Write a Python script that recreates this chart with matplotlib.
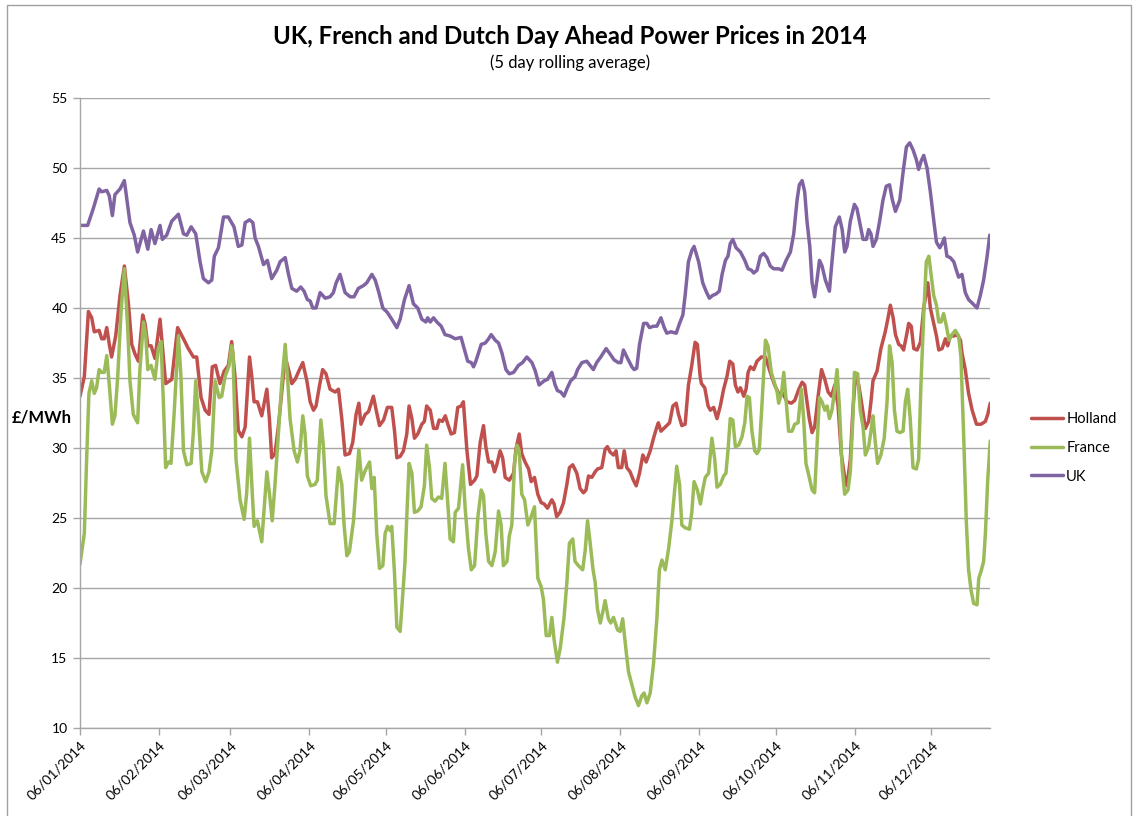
import numpy as np
import pandas as pd
import matplotlib
matplotlib.use('Agg')
import matplotlib.pyplot as plt
import matplotlib.dates as mdates
from matplotlib.patches import Rectangle

plt.rcParams['font.family'] = ['Lato', 'DejaVu Sans']

# day offset from 06/01/2014, 5 day rolling average price (GBP/MWh)
start = pd.Timestamp('2014-01-06')
end = pd.Timestamp('2014-12-29')

holland = [
    (0, 33.7), (1.7, 35.1), (3.3, 39.75), (4.6, 39.3), (5.6, 38.3), (7.5, 38.4), (8.5, 37.8), (9.5, 37.8),
    (10.5, 38.6), (11.5, 37.4), (12.4, 36.5), (14, 38.0), (15.7, 40.9), (17.4, 43.0), (19, 40.3), (20.3, 37.4),
    (21.6, 36.7), (22.9, 36.2), (24.6, 39.5), (25.5, 38.9), (26.6, 37.3), (27.9, 37.3), (29.4, 36.4), (31.4, 39.2),
    (32.4, 37.1), (33.6, 34.6), (36, 34.9), (38.3, 38.6), (40.6, 37.8), (42.5, 37.1), (44.5, 36.5), (45.8, 36.5),
    (47.5, 33.6), (49.1, 32.7), (50.6, 32.4), (51.9, 35.8), (53.2, 35.9), (54.9, 34.6), (56.6, 35.5), (58.2, 35.9),
    (59.5, 37.6), (60.8, 35.1), (62.1, 31.25), (63.5, 30.8), (64.8, 31.5), (66.5, 36.5), (67.4, 35.1), (68.3, 33.3),
    (69.6, 33.3), (71.3, 32.3), (73.3, 34.2), (74.3, 32.1), (75.2, 29.3), (76.5, 29.6), (77.8, 31.5), (79.1, 33.9),
    (80.5, 36.5), (81.8, 35.6), (83.1, 34.6), (84.4, 34.9), (86.1, 35.6), (87.4, 36.1), (89, 34.8), (90.3, 33.3),
    (91.6, 32.7), (92.6, 33.0), (94, 34.5), (95.2, 35.6), (96.5, 35.3), (98.1, 34.2), (100.1, 34.0), (101.4, 34.2),
    (102.7, 32.1), (104, 29.5), (105.7, 29.6), (107, 30.4), (108.3, 32.4), (109.4, 33.2), (110.2, 31.7), (111.9, 32.4),
    (113.2, 32.6), (115.1, 33.7), (116.2, 32.7), (117.5, 31.6), (119.1, 32.0), (120.6, 32.9), (122.3, 32.9), (123.4, 31.2),
    (124.3, 29.3), (125.6, 29.4), (126.9, 29.8), (128.2, 31.0), (129.1, 33.0), (130.2, 32.1), (131.2, 30.7), (132.5, 31.0),
    (134.1, 31.7), (135.1, 31.9), (136, 33.0), (137.4, 32.7), (138.7, 31.4), (140, 31.4), (140.9, 32.0), (142.2, 31.9),
    (143.3, 32.3), (144.3, 31.7), (145.6, 31.0), (146.9, 31.1), (148.2, 32.9), (149.5, 33.0), (150.4, 33.3), (151.8, 29.8),
    (153.2, 27.4), (154.8, 27.7), (155.7, 28.0), (157, 30.4), (158.3, 31.6), (159.2, 30.1), (160.3, 29.0), (161.6, 29.0),
    (162.6, 28.3), (163.5, 28.8), (164.8, 29.8), (165.8, 29.3), (166.8, 27.9), (168.4, 27.7), (170.1, 28.2), (171, 29.9),
    (172.3, 31.0), (173.3, 29.6), (174.6, 29.0), (176, 28.5), (177, 27.6), (178.3, 27.9), (179.6, 26.7), (180.9, 26.1),
    (182.1, 26.0), (183.4, 25.7), (185.1, 26.3), (186, 26.0), (187, 25.1), (188.3, 25.4), (189.7, 26.1), (191, 27.4),
    (192, 28.6), (193.3, 28.8), (194.9, 28.2), (196.2, 27.1), (197.5, 26.8), (198.5, 27.0), (199.5, 28.0), (200.8, 27.9),
    (202.1, 28.3), (203, 28.5), (204.7, 28.6), (206, 29.9), (206.9, 30.1), (208, 29.7), (209.3, 29.5), (210.3, 29.8),
    (211.2, 28.6), (212.5, 28.6), (213.5, 29.8), (214.5, 28.6), (215.8, 28.3), (217.1, 27.7), (218.2, 27.3), (219.5, 28.2),
    (220.8, 29.5), (222.1, 29.0), (223.7, 29.8), (225, 30.7), (226.3, 31.5), (226.9, 31.8), (227.9, 31.2), (229.6, 31.5),
    (231.3, 31.8), (232.6, 33.0), (233.9, 33.2), (234.8, 32.4), (236.1, 31.6), (237.4, 31.7), (238.7, 34.5), (240, 35.9),
    (241.3, 37.55), (242.2, 37.4), (243.3, 35.1), (243.8, 34.6), (245.1, 34.3), (246.4, 33.0), (247.3, 32.7), (248.6, 32.9),
    (249.9, 32.1), (251.2, 33.0), (252.5, 34.2), (253.8, 35.1), (254.9, 36.2), (256.1, 36.0), (257.1, 34.5), (258.1, 34.0),
    (259.1, 34.3), (260.4, 33.7), (261.3, 34.2), (262.1, 35.4), (263, 35.8), (264.3, 35.6), (265.6, 36.2), (267.3, 36.5),
    (268.9, 36.5), (270.8, 35.4), (272.5, 34.5), (274.1, 33.9), (275.7, 33.9), (277.4, 33.3), (279.1, 33.2), (280.4, 33.4),
    (282, 34.2), (283.3, 34.7), (284.3, 34.5), (285.2, 33.3), (286.1, 32.1), (287.2, 31.1), (288.2, 31.5), (289.5, 33.6),
    (290.9, 35.6), (292.2, 34.9), (293.5, 34.0), (294.8, 33.7), (296.1, 34.5), (297.4, 33.0), (298.7, 29.5), (300, 27.9),
    (300.9, 27.3), (302.2, 29.2), (303.2, 32.7), (304.2, 35.1), (305.5, 34.5), (306.8, 33.0), (308.1, 31.4), (309.4, 31.9),
    (310.3, 33.3), (311.1, 34.8), (312.7, 35.5), (314.2, 37.1), (315.9, 38.3), (316.9, 39.2), (317.9, 40.2), (319, 39.3),
    (319.9, 38.1), (321.2, 37.4), (322.1, 37.3), (323.1, 37.0), (324.2, 38.0), (325.1, 38.9), (326.1, 38.7), (327.1, 37.1),
    (328.4, 37.0), (329.7, 37.55), (331, 40.0), (332.6, 41.8), (333.6, 40.0), (334.9, 38.9), (336, 38.0), (336.9, 37.0),
    (338.2, 37.1), (339.5, 37.8), (340.4, 37.3), (341.4, 38.0), (342.8, 38.0), (344.1, 38.1), (345.4, 37.7), (346, 36.8),
    (347.3, 35.6), (348.6, 33.9), (350, 32.7), (351.7, 31.7), (353.5, 31.7), (355.2, 31.9), (356.1, 32.4), (357.1, 33.2),
]

france = [
    (0, 21.7), (1.7, 23.9), (2.6, 29.2), (3.5, 33.9), (4.6, 34.8), (5.6, 33.9), (6.5, 34.3), (7.5, 35.6), (8.5, 35.4),
    (9.5, 35.4), (10.5, 36.6), (11.5, 34.5), (12.7, 31.7), (13.7, 32.3), (14.8, 35.1), (16.1, 39.75), (17.4, 42.8),
    (18.7, 38.6), (19.6, 34.8), (20.9, 32.4), (22.6, 31.8), (23.5, 35.6), (24.9, 39.0), (25.8, 38.0), (26.6, 35.6),
    (27.9, 35.9), (29.4, 34.9), (30.7, 37.1), (31.8, 37.6), (32.7, 33.3), (33.6, 28.6), (34.7, 29.0), (35.7, 28.9),
    (37, 32.7), (38.6, 38.0), (39.6, 35.1), (40.6, 29.8), (41.9, 28.8), (43.6, 28.9), (44.5, 31.2), (45.4, 34.8),
    (46.4, 32.4), (47.8, 28.3), (49.3, 27.6), (50.6, 28.3), (51.7, 29.8), (53, 34.8), (54.6, 33.6), (55.6, 33.7),
    (56.9, 35.1), (58.5, 35.9), (59.5, 37.3), (60, 36.8), (61.2, 29.2), (62.8, 26.3), (64.4, 24.9), (65.4, 26.8),
    (66.5, 30.7), (67.4, 27.4), (68.3, 24.4), (69.6, 24.8), (71.3, 23.3), (73.3, 28.3), (74.3, 26.8), (75.4, 24.8),
    (76.5, 27.4), (77.8, 31.0), (79.1, 34.5), (80.5, 37.4), (81.4, 35.1), (82.4, 32.1), (84, 29.8), (85.3, 29.0),
    (86.3, 29.8), (87.4, 32.3), (88.3, 31.0), (89.2, 28.0), (90.5, 27.3), (92.2, 27.4), (93.1, 27.7), (94.5, 32.0),
    (95.5, 30.1), (96.5, 26.6), (98.1, 24.6), (99.7, 24.6), (101.4, 28.6), (102.7, 27.4), (103.6, 24.5), (104.7, 22.3),
    (105.7, 22.6), (107.3, 24.8), (108.3, 27.4), (109.4, 29.9), (110.5, 27.7), (111.9, 28.4), (113.6, 29.0), (114.5, 27.1),
    (115.4, 27.9), (116.4, 23.9), (117.5, 21.4), (118.8, 21.6), (119.7, 23.9), (120.7, 24.4), (121.7, 24.1), (122.3, 24.4),
    (123.4, 21.0), (124.3, 17.2), (125.6, 16.9), (126.5, 19.2), (127.5, 21.9), (128.2, 25.1), (129.1, 28.9), (130.2, 28.2),
    (131.2, 25.4), (132.5, 25.5), (133.8, 25.8), (135.1, 27.3), (136, 30.2), (137.1, 28.6), (138, 26.4), (139.3, 26.2),
    (140.6, 26.5), (141.9, 26.4), (143.2, 28.9), (144.3, 26.0), (145.2, 23.5), (146.5, 23.3), (147.2, 25.4), (148.5, 25.7),
    (150.1, 28.8), (151.1, 25.7), (152.4, 22.8), (153.5, 21.3), (154.8, 21.6), (156.1, 25.1), (157.4, 27.0), (158.3, 26.6),
    (159.2, 23.9), (160.3, 21.9), (161.6, 21.6), (162.9, 22.6), (164.2, 25.5), (165.2, 24.5), (166.1, 21.6), (167.5, 21.9),
    (168.4, 23.7), (169.4, 24.5), (170.5, 29.0), (171.4, 30.2), (172.3, 29.8), (173.3, 26.7), (174.4, 26.3), (175.7, 24.5),
    (177, 25.1), (178.3, 25.8), (179.6, 20.7), (180.9, 20.1), (181.8, 19.2), (182.9, 16.6), (184.2, 16.6), (185.1, 17.9),
    (186, 16.3), (187.3, 14.7), (188.4, 15.7), (189.9, 17.9), (191, 20.4), (192, 23.2), (193.3, 23.5), (194.2, 21.9),
    (195.5, 21.6), (197.2, 21.3), (198.2, 22.7), (199.1, 24.8), (200.1, 23.3), (201.2, 21.4), (202.1, 20.4), (203, 18.5),
    (204.1, 17.5), (205.1, 18.3), (206, 19.1), (207.3, 17.8), (208.2, 17.5), (209.3, 17.9), (210.9, 17.0), (211.9, 16.9),
    (212.9, 17.8), (214.3, 15.4), (215.2, 14.0), (216.5, 13.1), (217.8, 12.2), (219.1, 11.6), (220.4, 12.3), (221.3, 12.5),
    (222.4, 11.8), (223.7, 12.5), (225, 14.6), (226.3, 17.8), (227.3, 21.3), (228.3, 22.0), (229.6, 21.3), (230.9, 22.8),
    (232.2, 24.8), (233.5, 27.4), (234.1, 28.7), (235.2, 27.4), (236.1, 24.5), (237.4, 24.3), (239.1, 24.2), (240, 25.4),
    (240.9, 27.6), (242.2, 27.0), (243.4, 26.0), (244.3, 27.0), (245.3, 27.9), (246.6, 28.2), (247.9, 30.7), (249, 29.2),
    (249.9, 27.2), (251.2, 27.4), (252.5, 28.0), (253.4, 28.2), (254.2, 29.8), (255.1, 32.1), (256.1, 32.0), (257.1, 30.1),
    (258.4, 30.2), (259.7, 30.8), (260.8, 31.8), (261.7, 33.7), (262.6, 33.6), (263.6, 31.2), (264.7, 29.8), (265.6, 29.6),
    (266.5, 29.9), (267.6, 33.3), (268.9, 37.7), (269.9, 37.3), (271.2, 35.4), (272.5, 34.6), (273.5, 34.0), (274.1, 33.2),
    (275.2, 33.9), (276.1, 35.4), (277, 33.4), (278, 31.2), (279.3, 31.2), (280.4, 31.7), (281.7, 31.8), (283, 34.2),
    (283.9, 32.1), (284.8, 28.9), (286.1, 27.9), (287.2, 27.0), (288.2, 26.8), (289.2, 30.4), (290.1, 33.6), (291.1, 33.3),
    (292.2, 32.7), (293.1, 33.0), (294, 32.1), (295, 32.7), (296.1, 34.2), (297, 35.6), (297.9, 33.0), (299, 28.6),
    (300, 26.7), (301.3, 27.0), (302.2, 28.3), (303.2, 32.1), (303.8, 35.4), (305.1, 35.3), (306.1, 32.7), (307.2, 31.5),
    (308.1, 29.5), (309.4, 30.1), (310.3, 31.2), (311.1, 32.3), (312, 30.4), (312.9, 28.9), (314.2, 29.5), (315.5, 30.7),
    (316.6, 33.3), (317.6, 37.3), (318.6, 36.1), (319.5, 32.7), (320.5, 31.2), (321.6, 31.1), (322.9, 31.2), (323.8, 33.3),
    (324.7, 34.2), (325.7, 32.1), (326.8, 28.6), (328.1, 28.5), (329, 29.2), (329.9, 34.5), (331, 39.5), (332, 43.3),
    (333, 43.7), (333.9, 42.4), (334.9, 40.9), (336, 40.2), (336.9, 39.0), (337.8, 39.0), (338.8, 39.6), (339.9, 38.7),
    (340.9, 37.7), (342.1, 38.1), (343.4, 38.4), (344.7, 38.0), (345.6, 36.5), (346.7, 30.7), (347.7, 24.8), (348.6, 21.3),
    (349.6, 19.8), (350.6, 18.9), (351.9, 18.8), (352.6, 20.7), (353.5, 21.2), (354.5, 21.9), (355.2, 23.9), (356.1, 27.7),
    (357.1, 30.5),
]

uk = [
    (0, 45.9), (3, 45.9), (5.2, 47.1), (7.5, 48.5), (8.5, 48.3), (10.5, 48.4), (11.5, 48.0), (12.7, 46.6), (13.7, 48.1),
    (15.7, 48.5), (17.4, 49.1), (19.6, 46.1), (21.3, 45.2), (22.6, 44.0), (24.9, 45.5), (26.6, 44.2), (27.9, 45.6),
    (29.4, 44.6), (31.4, 45.9), (32.3, 44.9), (34, 45.2), (36, 46.2), (38.6, 46.7), (40.6, 45.3), (41.9, 45.2),
    (43.6, 45.8), (45.4, 45.3), (47.1, 43.3), (48.4, 42.1), (50.4, 41.8), (51.7, 42.0), (52.7, 43.7), (54.3, 44.3),
    (56.3, 46.5), (58.2, 46.5), (60.4, 45.8), (62.1, 44.4), (63.5, 44.5), (64.8, 46.1), (66.5, 46.3), (67.8, 46.1),
    (68.7, 45.0), (70, 44.4), (72, 43.1), (73.5, 43.4), (75.2, 42.1), (77.2, 42.7), (78.5, 43.3), (80.5, 43.6),
    (81.8, 42.4), (83.1, 41.4), (85, 41.2), (86.6, 41.5), (87.9, 41.2), (89.2, 40.6), (90.3, 40.5), (91.3, 40.0),
    (92.6, 40.0), (94.2, 41.1), (96.2, 40.7), (98.1, 40.8), (99.4, 41.1), (100.5, 41.8), (102, 42.4), (104, 41.1),
    (106, 40.8), (107.5, 40.8), (109.2, 41.4), (111.2, 41.6), (112.5, 41.8), (114.5, 42.4), (115.8, 42.0), (117.1, 41.2),
    (118.8, 40.0), (120.5, 39.7), (122.3, 39.2), (124.3, 38.6), (125.6, 39.2), (127.3, 40.6), (129.1, 41.6), (130.8, 40.3),
    (132.5, 40.0), (134.1, 39.2), (135.7, 39.0), (136.4, 39.3), (137.4, 39.0), (138.7, 39.3), (140, 39.0), (141.7, 38.7),
    (143.2, 38.1), (145.2, 38.0), (147.2, 37.8), (149.5, 37.9), (150.4, 37.3), (152.1, 36.2), (153.5, 36.1), (154.4, 35.8),
    (155.3, 36.2), (157.4, 37.4), (159, 37.5), (160.3, 37.8), (161.3, 38.1), (162.9, 37.7), (164.2, 37.5), (165.5, 36.8),
    (167.1, 35.6), (168.4, 35.3), (170.1, 35.4), (172, 35.9), (173.6, 36.1), (175.3, 36.5), (177.3, 36.1), (178.6, 35.5),
    (180.1, 34.5), (182.1, 34.8), (183.4, 34.9), (185.1, 35.4), (186.4, 34.5), (187.3, 34.1), (188.6, 34.0), (189.9, 33.7),
    (191.2, 34.3), (192.5, 34.8), (194.2, 35.1), (195.2, 35.6), (196.9, 36.1), (198.8, 36.2), (200.1, 35.9), (201.4, 35.6),
    (202.7, 36.1), (204.3, 36.5), (206.4, 37.1), (208, 36.7), (209.5, 36.3), (211.2, 36.1), (212.2, 36.1), (213.2, 37.0),
    (214.8, 36.4), (216.5, 35.8), (217.4, 35.6), (218.4, 35.7), (219.5, 37.4), (221.1, 38.9), (222.4, 38.9), (223.4, 38.6),
    (225, 38.7), (226.3, 38.7), (227.9, 39.3), (229.2, 38.6), (230.2, 38.2), (231.8, 38.3), (233.9, 38.2), (235.2, 38.9),
    (236.5, 39.5), (237.4, 40.9), (238.7, 43.3), (240, 44.1), (240.9, 44.4), (242.7, 43.3), (244.3, 41.8), (245.6, 41.2),
    (246.9, 40.7), (248.2, 40.9), (249.5, 41.0), (250.8, 41.2), (251.9, 42.4), (253.2, 43.4), (254.2, 43.7), (255.1, 44.6),
    (256.1, 44.9), (257.4, 44.3), (259.1, 44.0), (260.8, 43.4), (262.1, 42.8), (263.4, 42.7), (264.3, 42.5), (265.6, 42.7),
    (266.9, 43.7), (268.2, 43.9), (269.5, 43.6), (270.8, 43.0), (272.1, 42.8), (274.1, 42.8), (275.4, 42.7), (277, 43.4),
    (278.7, 44.0), (280, 45.3), (281.3, 47.7), (282.2, 48.8), (283.3, 49.1), (284.3, 48.3), (285.2, 46.2), (286.3, 44.4),
    (287.2, 41.8), (288.2, 40.8), (289.2, 42.1), (290.1, 43.4), (291.1, 43.0), (292.4, 42.0), (294, 41.2), (295, 43.3),
    (296.3, 45.8), (297.9, 46.5), (299, 45.6), (300, 44.0), (300.9, 44.4), (302.2, 46.2), (303.8, 47.4), (304.8, 47.1),
    (306.1, 45.9), (307.2, 44.9), (308.5, 44.9), (309.4, 45.6), (310.3, 45.3), (311.1, 44.4), (312.4, 44.9), (313.7, 46.2),
    (315, 47.7), (316.3, 48.7), (317.6, 48.8), (318.6, 47.8), (319.9, 46.9), (321.6, 47.7), (322.9, 49.7), (324.2, 51.5),
    (325.5, 51.8), (326.8, 51.3), (328.1, 50.6), (329, 49.9), (330, 50.5), (331, 50.9), (332.3, 50.0), (333.6, 48.3),
    (334.9, 46.3), (336, 44.7), (337.3, 44.3), (338.2, 44.6), (339.1, 45.0), (340.1, 43.7), (341.4, 43.6), (342.8, 43.3),
    (343.8, 42.7), (344.7, 42.2), (346, 42.4), (347.3, 41.1), (348.6, 40.6), (350.3, 40.3), (351.9, 40.0), (353.2, 40.9),
    (354.5, 42.0), (355.8, 43.6), (356.9, 45.2),
]

series_names = ['Holland', 'France', 'UK']
series_colors = ['#C0504D', '#9BBB59', '#8064A2']
y_ticks = list(range(10, 56, 5))


def to_dates(pairs):
    days = np.array([p[0] for p in pairs])
    vals = np.array([p[1] for p in pairs])
    return start + pd.to_timedelta(days, unit='D'), vals


fig = plt.figure(figsize=(11.33, 8.16), dpi=100)
ax = fig.add_axes([80 / 1133, 1 - 728 / 816, 910 / 1133, 630 / 816])

for name, data, col in zip(series_names, [holland, france, uk], series_colors):
    x, y = to_dates(data)
    ax.plot(x, y, color=col, lw=2.5, label=name, solid_joinstyle='round', solid_capstyle='round')

ax.set_xlim(start, end)
ax.set_ylim(10, 55)
ax.set_yticks(y_ticks)
ax.yaxis.grid(True, color='#A6A6A6', lw=1.0)
ax.set_axisbelow(True)

ax.xaxis.set_major_locator(mdates.MonthLocator(bymonthday=6))
ax.xaxis.set_major_formatter(mdates.DateFormatter('%d/%m/%Y'))
for lbl in ax.get_xticklabels():
    lbl.set_rotation(45)
    lbl.set_ha('right')
    lbl.set_va('top')
    lbl.set_rotation_mode('anchor')

for s in ['top', 'right']:
    ax.spines[s].set_visible(False)
for s in ['left', 'bottom']:
    ax.spines[s].set_color('#A6A6A6')
    ax.spines[s].set_linewidth(1.0)
ax.tick_params(axis='both', colors='#A6A6A6', labelcolor='black', labelsize=10, length=5, width=1.0)
ax.tick_params(axis='y', pad=4)
ax.tick_params(axis='x', pad=3)

fig.text(570 / 1133, 1 - 36 / 816, 'UK, French and Dutch Day Ahead Power Prices in 2014',
         ha='center', va='center', fontsize=17.3, fontweight='bold')
fig.text(570 / 1133, 1 - 63 / 816, '(5 day rolling average)', ha='center', va='center', fontsize=12)
fig.text(12 / 1133, 1 - 418 / 816, '£/MWh', ha='left', va='center', fontsize=12, fontweight='bold')

fig.legend(loc='center left', bbox_to_anchor=(1018 / 1133, 1 - 448 / 816), frameon=False,
           fontsize=10.5, handlelength=2.2, handletextpad=0.2, labelspacing=1.0)

fig.patches.append(Rectangle((7 / 1133, -0.01), 1124 / 1133, 1 - 5 / 816 + 0.01, transform=fig.transFigure,
                             fill=False, edgecolor='#A0A0A0', lw=1.0))

fig.savefig('out.png', dpi=100)
